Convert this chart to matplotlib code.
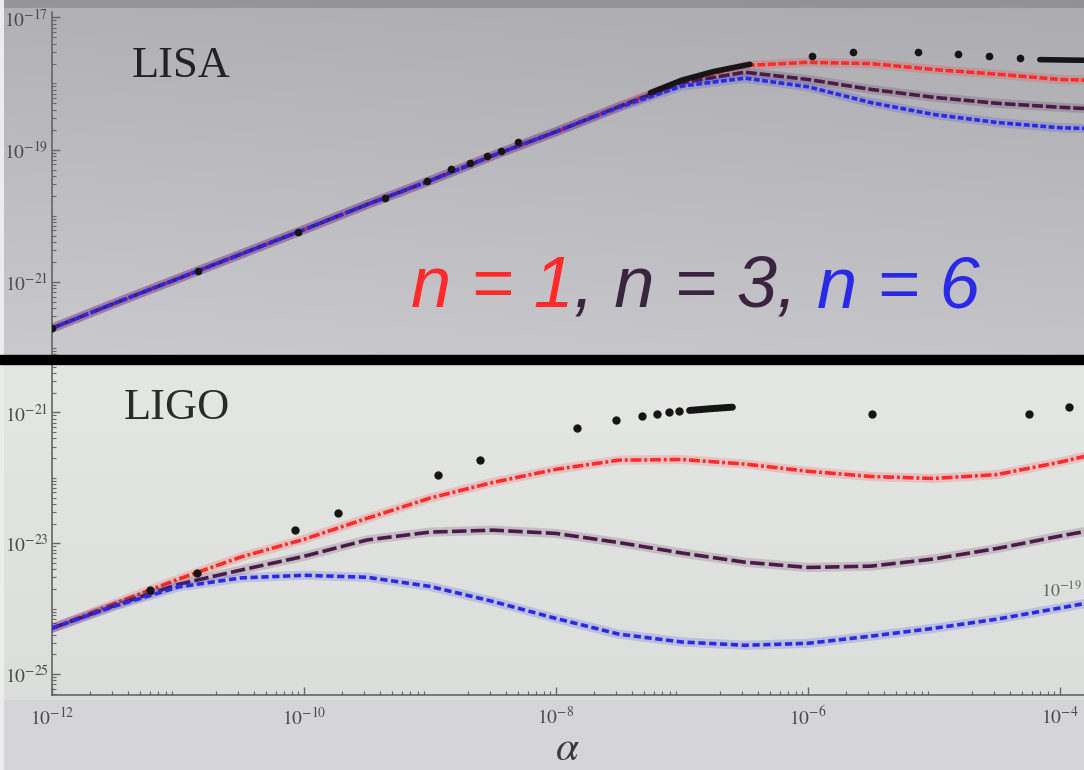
import numpy as np
import matplotlib
matplotlib.use("Agg")
import matplotlib.pyplot as plt
from matplotlib.patches import Rectangle
from matplotlib.ticker import FixedLocator, NullFormatter
from matplotlib.offsetbox import TextArea, HPacker, AnnotationBbox

plt.rcParams["mathtext.fontset"] = "stix"
plt.rcParams["font.family"] = ["Liberation Serif", "DejaVu Serif"]

# ---------------- data (log10 values) ----------------
log_alpha = np.array([-12.0, -11.5, -11.0, -10.5, -10.0, -9.5, -9.0, -8.5, -8.0,
                      -7.5, -7.0, -6.5, -6.0, -5.5, -5.0, -4.5, -4.0, -3.8])

# LISA panel
lisa_n1 = np.array([-21.70, -21.32, -20.95, -20.58, -20.21, -19.83, -19.47, -19.09, -18.73,
                    -18.35, -17.97, -17.73, -17.68, -17.70, -17.79, -17.86, -17.94, -17.95])
lisa_n3 = np.array([-21.70, -21.32, -20.95, -20.58, -20.21, -19.83, -19.47, -19.09, -18.73,
                    -18.35, -17.99, -17.83, -17.94, -18.09, -18.21, -18.30, -18.36, -18.38])
lisa_n6 = np.array([-21.70, -21.32, -20.95, -20.58, -20.21, -19.83, -19.47, -19.09, -18.73,
                    -18.36, -18.04, -17.92, -18.05, -18.29, -18.47, -18.59, -18.67, -18.68])

lisa_pts_alpha = np.array([-12.00, -10.84, -10.05, -9.36, -9.02, -8.83, -8.68, -8.55, -8.44, -8.30,
                           -5.97, -5.64, -5.13, -4.81, -4.56, -4.32])
lisa_pts_h = np.array([-21.70, -20.83, -20.24, -19.73, -19.47, -19.29, -19.20, -19.09, -19.02, -18.89,
                       -17.58, -17.52, -17.53, -17.56, -17.59, -17.62])
lisa_band1_alpha = np.array([-7.25, -7.0, -6.75, -6.46])
lisa_band1_h = np.array([-18.14, -17.95, -17.82, -17.71])
lisa_band2_alpha = np.array([-4.16, -3.8])
lisa_band2_h = np.array([-17.64, -17.65])

# LIGO panel
ligo_n1 = np.array([-24.30, -23.92, -23.55, -23.21, -22.94, -22.62, -22.31, -22.07, -21.87,
                    -21.73, -21.72, -21.79, -21.90, -21.98, -22.01, -21.95, -21.76, -21.67])
ligo_n3 = np.array([-24.30, -23.95, -23.63, -23.41, -23.20, -22.95, -22.83, -22.80, -22.85,
                    -22.99, -23.15, -23.29, -23.37, -23.35, -23.24, -23.08, -22.89, -22.82])
ligo_n6 = np.array([-24.30, -23.96, -23.67, -23.53, -23.49, -23.52, -23.66, -23.89, -24.15,
                    -24.39, -24.51, -24.56, -24.53, -24.42, -24.30, -24.16, -23.99, -23.92])

ligo_pts_alpha = np.array([-11.22, -10.85, -10.07, -9.73, -8.94, -8.60, -7.83, -7.52, -7.32,
                           -7.20, -7.10, -7.02, -5.49, -4.25, -3.93])
ligo_pts_h = np.array([-23.72, -23.46, -22.80, -22.54, -21.96, -21.72, -21.24, -21.11, -21.05,
                       -21.02, -21.00, -20.98, -21.02, -21.02, -20.92])
ligo_band_alpha = np.array([-6.94, -6.75, -6.60])
ligo_band_h = np.array([-20.97, -20.94, -20.92])

x_tick_exp = [-12, -10, -8, -6, -4]
lisa_tick_exp = [-17, -19, -21]
ligo_tick_exp = [-21, -23, -25]

red = "#ff2a2a"
purple = "#4a1a48"
blue = "#2a2ae6"

# ---------------- figure & backdrop ----------------
W, H = 1084, 770
fig = plt.figure(figsize=(W / 100, H / 100), dpi=100)

yy, xx = np.mgrid[0:H, 0:W]
bg = np.zeros((H, W, 3))
top = yy < 356
t = yy / 356.0
for c, (a, b) in enumerate([(176, 202), (176, 202), (181, 206)]):
    bg[..., c] = np.where(top, a + (b - a) * t - 5 * (xx / W), 0)
low = (yy >= 356) & (yy < 700)
for c, v in enumerate([229, 231, 228]):
    bg[..., c] = np.where(low, v - 9 * ((yy - 356) / 344.0), bg[..., c])
floor = yy >= 700
for c, v in enumerate([213, 213, 215]):
    bg[..., c] = np.where(floor, v, bg[..., c])
bg[:8, :, :] = bg[:8, :, :] * 0.85
bg[:, :4, :] = 236
back = fig.add_axes([0, 0, 1, 1], zorder=-10)
back.imshow(bg.astype(np.uint8), aspect="auto", interpolation="bilinear")
back.axis("off")

x_left, x_right = 52, W
xlim = (10 ** -12.0, 10 ** (-12.0 + (x_right - x_left) / 126.0))


def make_axes(y_top, y_bot, ylim):
    ax = fig.add_axes([x_left / W, (H - y_bot) / H, (x_right - x_left) / W, (y_bot - y_top) / H])
    ax.set_facecolor("none")
    ax.set_xscale("log")
    ax.set_yscale("log")
    ax.set_xlim(*xlim)
    ax.set_ylim(*ylim)
    for s in ("top", "right"):
        ax.spines[s].set_visible(False)
    for s in ("left", "bottom"):
        ax.spines[s].set_color("#666666")
        ax.spines[s].set_linewidth(1.2)
    ax.tick_params(which="both", direction="in", colors="#666666", labelcolor="#4a4a4a")
    ax.tick_params(axis="y", labelsize=14, pad=2.5)
    ax.tick_params(axis="x", labelsize=14)
    ax.tick_params(which="major", length=6, width=1)
    ax.tick_params(which="minor", length=3, width=0.8)
    return ax


ax1 = make_axes(12, 356, (10 ** -22.12, 10 ** -16.92))
ax2 = make_axes(364, 695, (10 ** -25.32, 10 ** -20.26))

for ax, exps in ((ax1, lisa_tick_exp), (ax2, ligo_tick_exp)):
    ax.yaxis.set_major_locator(FixedLocator([10.0 ** e for e in exps]))
    ax.set_yticklabels([rf"$10^{{{e}}}$" for e in exps])
    lo, hi = np.log10(ax.get_ylim())
    minors = [m * 10.0 ** d for d in range(int(np.floor(lo)), int(np.ceil(hi)) + 1)
              for m in range(1, 10)
              if not (m == 1 and d in exps)]
    ax.yaxis.set_minor_locator(FixedLocator(minors))
    ax.yaxis.set_minor_formatter(NullFormatter())

ax1.spines["bottom"].set_visible(False)
ax1.tick_params(axis="x", which="both", bottom=False, labelbottom=False)

ax2.xaxis.set_major_locator(FixedLocator([10.0 ** e for e in x_tick_exp]))
ax2.set_xticklabels([rf"$10^{{{e}}}$" for e in x_tick_exp])
ax2.xaxis.set_minor_locator(FixedLocator([m * 10.0 ** d for d in range(-12, -3) for m in range(2, 10)]))
ax2.xaxis.set_minor_formatter(NullFormatter())
ax2.tick_params(axis="x", pad=8)


def curve(ax, lx, ly, color, dashes, lw=2.6, z=3):
    x, y = 10.0 ** lx, 10.0 ** ly
    ax.plot(x, y, color=color, lw=lw + 4, alpha=0.18, solid_capstyle="round", zorder=z)
    ax.plot(x, y, color=color, lw=lw, dashes=dashes, zorder=z + 0.5)


# LISA
curve(ax1, log_alpha, lisa_n1, red, (2.2, 0.7), z=3)
curve(ax1, log_alpha, lisa_n3, purple, (3.0, 0.8), z=4)
curve(ax1, log_alpha, lisa_n6, blue, (1.6, 0.7), z=5)
ax1.plot(10.0 ** lisa_pts_alpha, 10.0 ** lisa_pts_h, "o", color="#151515", ms=4.5, zorder=7)
ax1.plot(10.0 ** lisa_band1_alpha, 10.0 ** lisa_band1_h, color="#151515", lw=4,
         solid_capstyle="round", zorder=7)
ax1.plot(10.0 ** lisa_band2_alpha, 10.0 ** lisa_band2_h, color="#151515", lw=4,
         solid_capstyle="round", zorder=7)

# LIGO
curve(ax2, log_alpha, ligo_n1, red, (3.0, 0.8, 0.8, 0.8), z=3)
curve(ax2, log_alpha, ligo_n3, purple, (4.0, 1.2), z=4)
curve(ax2, log_alpha, ligo_n6, blue, (2.0, 1.0), z=5)
ax2.plot(10.0 ** ligo_pts_alpha, 10.0 ** ligo_pts_h, "o", color="#151515", ms=5, zorder=7)
ax2.plot(10.0 ** ligo_band_alpha, 10.0 ** ligo_band_h, color="#151515", lw=5,
         solid_capstyle="round", zorder=7)

# panel names
ax1.text(80 / 1032, 1 - (66 - 12) / 344, "LISA", transform=ax1.transAxes, fontsize=32,
         color="#222222", va="center", ha="left")
ax2.text(72 / 1032, 1 - (408 - 364) / 331, "LIGO", transform=ax2.transAxes, fontsize=32,
         color="#2a2a2a", va="center", ha="left")
ax2.text(0.998, 1 - (590 - 364) / 331, r"$10^{-19}$", transform=ax2.transAxes, fontsize=13,
         color="#666666", va="center", ha="right")

# separator bar
fig.patches.append(Rectangle((0, (H - 364) / H), 1, 9 / H, transform=fig.transFigure,
                             color="black", zorder=20))

# series caption
parts = [("n = 1", red), (", n = 3, ", "#3a2440"), ("n = 6", blue)]
boxes = [TextArea(s, textprops=dict(color=c, fontsize=52, style="italic",
                                     family=["Liberation Sans", "DejaVu Sans"]))
         for s, c in parts]
pack = HPacker(children=boxes, align="baseline", pad=0, sep=0)
ab = AnnotationBbox(pack, (411 / W, (H - 288) / H), xycoords="figure fraction",
                    box_alignment=(0, 0.5), frameon=False, zorder=15)
fig.add_artist(ab)

# axis label
fig.text(567 / W, (H - 750) / H, r"$\alpha$", fontsize=30, color="#3a3a3a",
         ha="center", va="center")

fig.savefig("out.png", dpi=100)
